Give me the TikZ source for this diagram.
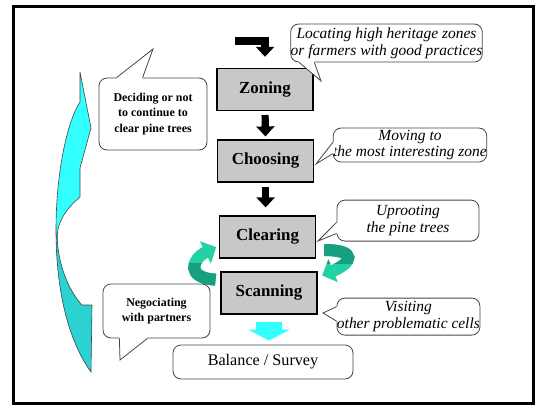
\documentclass[tikz,border=0pt]{standalone}
\usepackage{fontspec}
\setmainfont{Liberation Serif}
\usetikzlibrary{arrows.meta}

\definecolor{stepgray}{RGB}{200,200,200}
\definecolor{bubbleline}{RGB}{70,70,70}
\definecolor{loopLight}{RGB}{38,208,165}
\definecolor{loopDark}{RGB}{22,160,128}
\definecolor{cyanLight}{RGB}{51,255,255}
\definecolor{cyanDark}{RGB}{44,210,210}

\tikzset{
  stepbox/.style={draw=black, line width=0.03cm, fill=stepgray, minimum width=2.4cm,
    minimum height=1.05cm, font=\bfseries\fontsize{12}{14}\selectfont},
  bubble/.style={draw=bubbleline, line width=0.02cm, fill=white, rounded corners=0.2cm,
    inner sep=0pt, align=center},
  notetext/.style={bubble, font=\itshape\fontsize{11}{12}\selectfont},
  choicetext/.style={bubble, font=\bfseries\fontsize{8.5}{11}\selectfont},
  tailline/.style={draw=bubbleline, line width=0.02cm},
  blockarrow/.style={line width=0.18cm, -{Triangle[width=0.45cm,length=0.25cm]}},
  looparrow/.style={line width=0.3cm, -{Triangle[width=0.6cm,length=0.3cm]}},
}

% tail of a bubble: base point, tip, base point, inward shift
\newcommand{\bubbletail}[4]{%
  \path (#1) coordinate (tailA) (#3) coordinate (tailB);%
  \fill[white] ([shift={#4}]tailA) -- (tailA) -- (#2) -- (tailB) -- ([shift={#4}]tailB) -- cycle;%
  \draw[tailline] (tailA) -- (#2) -- (tailB);%
}

% outline of the big return arrow
\newcommand{\returnshape}{(2.0,8.375) -- (2.275,6.975) -- (2.0,5.975) -- (2.0,5.25)
  .. controls (1.7,5.0) and (1.45,4.675) .. (1.43,4.3)
  .. controls (1.43,3.625) and (1.7,2.925) .. (2.05,2.55)
  -- (2.3,2.55) -- (2.275,0.875)
  .. controls (1.7,1.675) and (1.4,2.925) .. (1.4,4.425)
  .. controls (1.4,5.925) and (1.7,7.175) .. (2.0,7.625) -- cycle}

\begin{document}
\begin{tikzpicture}
            \useasboundingbox (0,0) rectangle (13.4,10.175);
            
            % Drawing frame
            \draw [line width=0.075cm] (0.325,0.1) rectangle (13.325,10.025);%
            
            % Drawing big return arrow
            \fill [cyanLight] \returnshape;%
            \begin{scope}
              \clip (1.0,0.5) rectangle (2.6,4.35);
              \fill [cyanDark] \returnshape;%
            \end{scope}
            \draw [bubbleline, line width=0.015cm] \returnshape;%
            
            % Marking steps
            \node [stepbox] (zoning) at (6.625,7.94) {Zoning};%
            \node [stepbox] (choosing) at (6.64,6.15) {Choosing};%
            \node [stepbox] (clearing) at (6.69,4.25) {Clearing};%
            \node [stepbox] (scanning) at (6.725,2.85) {Scanning};%
            \node [bubble, minimum width=4.5cm, minimum height=0.85cm,
              font=\fontsize{11.5}{13}\selectfont] (balance) at (6.575,1.125) {Balance / Survey};%
            
            % Drawing black arrows
            \coordinate (entry) at (5.875,9.15);
            \draw [blockarrow, shorten >=0.275cm] (entry) -| (zoning.north);%
            \draw [blockarrow, shorten <=0.1cm, shorten >=0.075cm] (zoning.south) -- (choosing.north);%
            \draw [blockarrow, shorten <=0.1cm, shorten >=0.2cm] (choosing.south) -- (choosing.south |- clearing.north);%
            
            % Drawing loop arrows
            \draw [looparrow, loopLight, shorten <=0.12cm, shorten >=0.08cm] (scanning.165)
              .. controls +(-0.85,0.05) and +(-0.7,-0.35) .. (clearing.190);%
            \draw [looparrow, loopLight, shorten <=0.2cm, shorten >=0.12cm] (clearing.-15)
              .. controls +(1.05,0) and +(0.85,0.35) .. (scanning.18);%
            \begin{scope}
              \clip (4.0,0.5) rectangle (6.0,3.6);
              \draw [looparrow, loopDark, shorten <=0.12cm, shorten >=0.08cm] (scanning.165)
                .. controls +(-0.85,0.05) and +(-0.7,-0.35) .. (clearing.190);%
            \end{scope}
            \begin{scope}
              \clip (7.5,3.6) rectangle (9.5,5.0);
              \draw [looparrow, loopDark, shorten <=0.2cm, shorten >=0.12cm] (clearing.-15)
                .. controls +(1.05,0) and +(0.85,0.35) .. (scanning.18);%
            \end{scope}
            
            % Drawing cyan arrow
            \draw [cyanLight, line width=0.65cm, -{Triangle[width=1.025cm,length=0.275cm]},
              shorten <=0.175cm, shorten >=0.1cm] (scanning.south) -- (scanning.south |- balance.north);%
            
            % Marking bubbles
            \node [notetext, minimum width=4.775cm, minimum height=0.95cm] (locating) at (9.6625,9.1)
              {Locating high heritage zones\\or farmers with good practices};%
            \node [notetext, minimum width=3.6cm, minimum height=0.85cm] (moving) at (10.25,6.55)
              {Moving to\\the most interesting zone};%
            \node [notetext, minimum width=3.55cm, minimum height=1.025cm] (uprooting) at (10.2,4.66)
              {Uprooting\\the pine trees};%
            \node [notetext, minimum width=3.575cm, minimum height=0.925cm] (visiting) at (10.21,2.26)
              {Visiting\\other problematic cells};%
            \node [choicetext, minimum width=2.7cm, minimum height=1.8cm] (deciding) at (3.825,7.325)
              {Deciding or not\\to continue to\\clear pine trees};%
            \node [choicetext, minimum width=2.675cm, minimum height=1.35cm] (negociating) at (3.9125,2.4)
              {Negociating\\with partners};%
            
            % Drawing bubble tails
            \coordinate (locTip) at (8.025,8.15);
            \coordinate (movTip) at (7.9,6.075);
            \coordinate (upTip) at (7.95,4.15);
            \coordinate (visTip) at (8.075,2.35);
            \coordinate (decTip) at (3.825,8.95);
            \coordinate (negTip) at (3.0,1.175);
            \bubbletail{[xshift=0.22cm]locating.south west}{locTip}{[xshift=0.6cm]locating.south west}{(0,0.06)}
            \bubbletail{[yshift=0.22cm]moving.south west}{movTip}{[yshift=0.5cm]moving.south west}{(0.06,0)}
            \bubbletail{[yshift=0.2cm]uprooting.south west}{upTip}{[yshift=0.48cm]uprooting.south west}{(0.06,0)}
            \bubbletail{[yshift=0.36cm]visiting.south west}{visTip}{[yshift=0.72cm]visiting.south west}{(0.06,0)}
            \bubbletail{[xshift=0.45cm]deciding.north west}{decTip}{[xshift=1.1cm]deciding.north west}{(0,-0.06)}
            \bubbletail{[xshift=0.42cm]negociating.south west}{negTip}{[xshift=1.12cm]negociating.south west}{(0,0.06)}
        \end{tikzpicture}
\end{document}
